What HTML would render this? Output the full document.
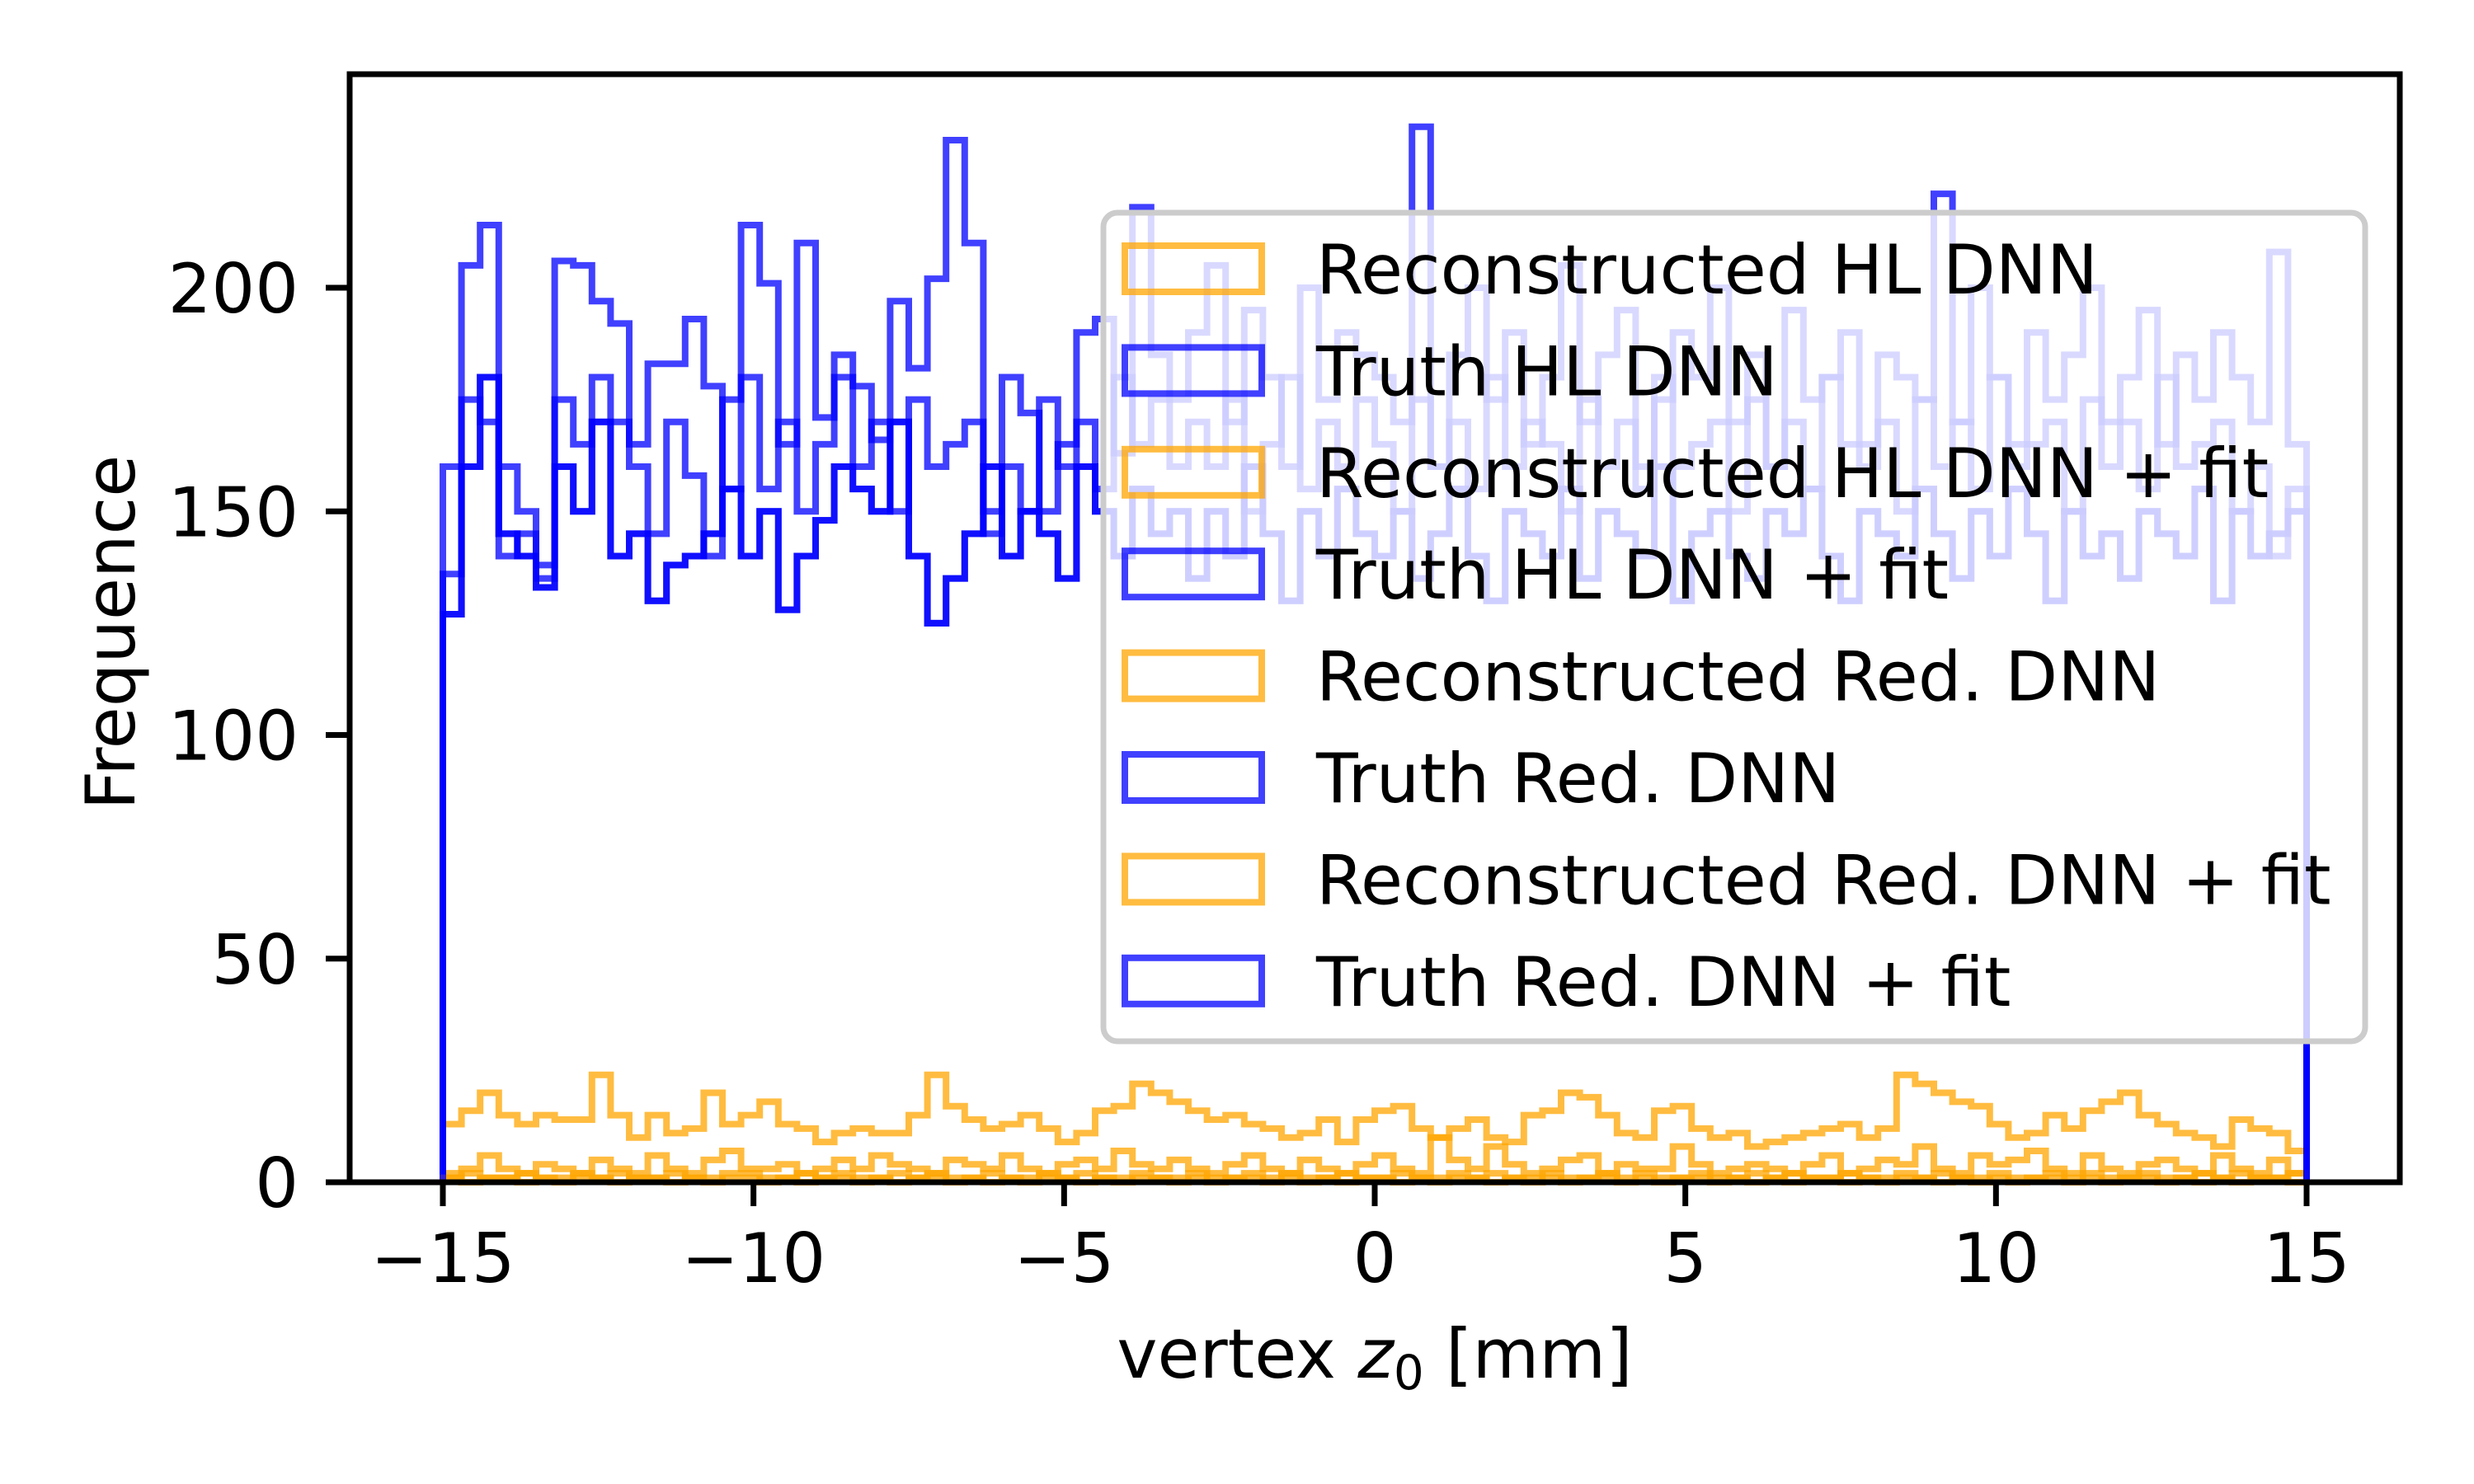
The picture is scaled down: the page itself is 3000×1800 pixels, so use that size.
<!DOCTYPE html>
<html><head><meta charset="utf-8"><style>
html,body{margin:0;padding:0;background:#fff;}
svg{display:block;font-family:"DejaVu Sans","Liberation Sans",sans-serif;}
</style></head><body>
<svg id="chart" width="3000" height="1800" viewBox="0 0 3000 1800">
<rect x="0" y="0" width="3000" height="1800" fill="#fff"/>
<g id="series"></g>
<g id="legend"></g>
<g id="axes"></g>
</svg>
<script>
const NS="http://www.w3.org/2000/svg";
const xTicks=[-15,-10,-5,0,5,10,15];
const yTicks=[0,50,100,150,200];
const seriesNames=["Reconstructed HL DNN","Truth HL DNN","Reconstructed HL DNN + fit","Truth HL DNN + fit","Reconstructed Red. DNN","Truth Red. DNN","Reconstructed Red. DNN + fit","Truth Red. DNN + fit"];
const truthA=[160,205,214,160,150,135,206,205,197,192,165,183,183,193,178,155,214,201,165,210,171,185,178,166,197,182,202,233,210,150,180,172,150,165,190,193,163,218,185,175,190,205,170,195,180,160,200,175,190,185,180,170,236,160,185,200,175,190,165,180,205,170,185,195,160,175,190,180,200,170,185,160,195,175,180,190,165,185,180,175,221,170,200,180,165,190,175,185,200,170,180,195,165,185,175,190,180,170,208,165];
const truthB=[136,175,170,140,145,138,175,165,180,170,160,145,170,158,140,175,180,155,170,150,165,180,160,170,150,175,160,165,170,145,160,150,175,160,170,155,180,165,175,160,170,160,175,150,165,180,155,170,160,175,165,150,175,160,170,155,180,160,170,165,150,175,160,170,155,180,160,165,170,150,175,160,170,155,180,165,160,170,150,175,160,170,155,180,160,165,170,150,175,160,170,155,180,160,165,170,150,160,140,155];
const truthC=[127,160,180,145,140,133,160,150,170,140,145,130,138,140,145,155,140,150,128,140,148,160,155,150,170,140,125,135,145,160,140,150,145,135,160,150,140,155,145,150,135,150,140,160,145,130,150,140,155,145,140,150,135,145,155,140,130,150,145,140,155,135,150,145,140,160,130,145,150,140,135,150,145,155,140,130,150,145,140,155,145,135,150,140,155,145,130,150,140,145,135,150,145,140,155,130,150,140,145,150];
const truthD=[127,160,180,145,140,133,160,150,170,140,145,130,138,140,145,155,140,150,128,140,148,160,155,150,170,140,125,135,145,160,140,150,145,135,160,150,140,155,145,150,135,150,140,160,145,130,150,140,155,145,140,150,135,145,155,140,130,150,145,140,155,135,150,145,140,160,130,145,150,140,135,150,145,155,140,130,150,145,140,155,145,135,150,140,155,145,130,150,140,145,135,150,145,140,155,130,150,140,145,150];
const recoA=[13,16,20,15,13,15,14,14,24,15,10,15,11,12,20,13,15,18,13,12,9,11,12,11,11,15,24,17,14,12,13,15,12,9,11,16,17,22,20,18,16,14,15,13,12,10,11,14,9,14,16,17,12,10,12,14,10,9,15,16,20,19,15,11,10,16,17,12,10,11,8,9,10,11,12,13,10,12,24,22,20,18,17,13,10,11,15,12,16,18,20,15,13,11,10,8,14,12,11,7];
const recoB=[2,3,6,3,2,4,3,2,5,3,2,6,3,2,5,7,3,3,4,2,3,5,3,6,4,3,2,5,4,3,6,3,2,4,5,3,7,4,3,5,3,2,4,6,3,2,5,3,2,4,6,3,2,10,5,3,8,4,2,3,5,6,2,4,3,3,8,4,2,3,4,3,2,4,6,2,3,5,4,8,3,2,6,4,5,7,3,2,6,3,2,4,5,3,2,6,3,2,5,2];
const recoC=[1,2,1,1,2,1,1,2,1,2,1,1,2,1,1,2,2,1,1,2,1,2,1,1,2,1,2,1,1,2,1,1,2,1,2,1,1,2,1,1,2,1,1,2,1,2,1,1,2,1,1,2,1,1,2,1,2,1,1,2,1,1,2,1,2,1,1,2,1,1,2,1,2,1,1,2,1,1,2,1,2,1,1,2,1,1,2,1,2,1,1,2,1,1,2,1,2,1,1,2];
const recoD=[1,0,1,1,0,1,0,1,1,0,1,1,0,1,0,1,1,0,1,0,1,1,0,1,0,1,1,0,1,0,1,0,1,1,0,1,0,1,1,0,1,0,1,1,0,1,0,1,0,1,1,0,1,0,1,1,0,1,0,1,0,1,1,0,1,0,1,1,0,1,0,1,0,1,1,0,1,0,1,1,0,1,0,1,0,1,1,0,1,0,1,1,0,1,0,1,0,1,1,0];

const L=424,R=2910,T=90,B=1434;
const X0=-16.5,X1=16.5;
function xs(v){return L+(v-X0)/(X1-X0)*(R-L);}
function ys(v){return B-v*5.425;}
const BLUE="rgba(0,0,255,0.75)",ORANGE="rgba(255,165,0,0.75)";

const ser=document.getElementById('series');
function hist(vals,color,name){
  const n=vals.length,w=30/n;
  let d="M"+xs(-15)+","+ys(0);
  for(let i=0;i<n;i++){
    const a=-15+i*w,b=a+w;
    d+=" L"+xs(a)+","+ys(vals[i])+" L"+xs(b)+","+ys(vals[i]);
  }
  d+=" L"+xs(15)+","+ys(0);
  const p=document.createElementNS(NS,'path');
  p.setAttribute('d',d);p.setAttribute('fill','none');p.setAttribute('stroke',color);
  p.setAttribute('stroke-width','8');p.setAttribute('stroke-linejoin','miter');
  
  
  ser.appendChild(p);
}
hist(recoA,ORANGE,'hist-reconstructed-hl-dnn');
hist(truthA,BLUE,'hist-truth-hl-dnn');
hist(recoB,ORANGE,'hist-reconstructed-hl-dnn-fit');
hist(truthB,BLUE,'hist-truth-hl-dnn-fit');
hist(recoC,ORANGE,'hist-reconstructed-red-dnn');
hist(truthC,BLUE,'hist-truth-red-dnn');
hist(recoD,ORANGE,'hist-reconstructed-red-dnn-fit');
hist(truthD,BLUE,'hist-truth-red-dnn-fit');

const lg=document.getElementById('legend');
const box=document.createElementNS(NS,'rect');
box.setAttribute('x',1338);box.setAttribute('y',258);box.setAttribute('width',1530);box.setAttribute('height',1005);
box.setAttribute('rx',17);box.setAttribute('fill','rgba(255,255,255,0.8)');box.setAttribute('stroke','#cccccc');box.setAttribute('stroke-width','7');


lg.appendChild(box);
seriesNames.forEach((s,i)=>{
  const cy=326+i*123.4;
  const r=document.createElementNS(NS,'rect');
  r.setAttribute('x',1364);r.setAttribute('y',cy-28);r.setAttribute('width',166);r.setAttribute('height',56);
  r.setAttribute('fill','none');r.setAttribute('stroke',i%2?BLUE:ORANGE);r.setAttribute('stroke-width','8');
  
  
  lg.appendChild(r);
  const t=document.createElementNS(NS,'text');
  t.setAttribute('x',1596);t.setAttribute('y',cy+30);t.setAttribute('font-size','83');
  t.textContent=s;
  
  
  lg.appendChild(t);
});

const ax=document.getElementById('axes');
const frame=document.createElementNS(NS,'rect');
frame.setAttribute('x',L);frame.setAttribute('y',T);frame.setAttribute('width',R-L);frame.setAttribute('height',B-T);
frame.setAttribute('fill','none');frame.setAttribute('stroke','#000');frame.setAttribute('stroke-width','7');


ax.appendChild(frame);
xTicks.forEach(v=>{
  const l=document.createElementNS(NS,'line');
  l.setAttribute('x1',xs(v));l.setAttribute('x2',xs(v));l.setAttribute('y1',B);l.setAttribute('y2',B+29);
  l.setAttribute('stroke','#000');l.setAttribute('stroke-width','7');
  
  
  ax.appendChild(l);
  const t=document.createElementNS(NS,'text');
  t.setAttribute('x',xs(v));t.setAttribute('y',1555);t.setAttribute('font-size','83');t.setAttribute('text-anchor','middle');
  t.textContent=(v<0?"\u2212"+(-v):String(v));
  
  
  ax.appendChild(t);
});
yTicks.forEach(v=>{
  const l=document.createElementNS(NS,'line');
  l.setAttribute('x1',L-29);l.setAttribute('x2',L);l.setAttribute('y1',ys(v));l.setAttribute('y2',ys(v));
  l.setAttribute('stroke','#000');l.setAttribute('stroke-width','7');
  
  
  ax.appendChild(l);
  const t=document.createElementNS(NS,'text');
  t.setAttribute('x',362);t.setAttribute('y',ys(v)+30);t.setAttribute('font-size','83');t.setAttribute('text-anchor','end');
  t.textContent=String(v);
  
  
  ax.appendChild(t);
});
</script>
<div style="position:absolute;left:0;top:0;width:3000px;height:1800px;pointer-events:none">
<svg width="3000" height="1800" style="position:absolute;left:0;top:0;font-family:'DejaVu Sans','Liberation Sans',sans-serif">
<text x="1667" y="1671" font-size="83" text-anchor="middle">vertex <tspan font-style="italic">z</tspan><tspan font-size="58" dy="14">0</tspan><tspan dy="-14"> [mm]</tspan></text>
<text x="163" y="767" font-size="83" text-anchor="middle" transform="rotate(-90 163 767)">Frequence</text>
</svg>
</div>
</body></html>
